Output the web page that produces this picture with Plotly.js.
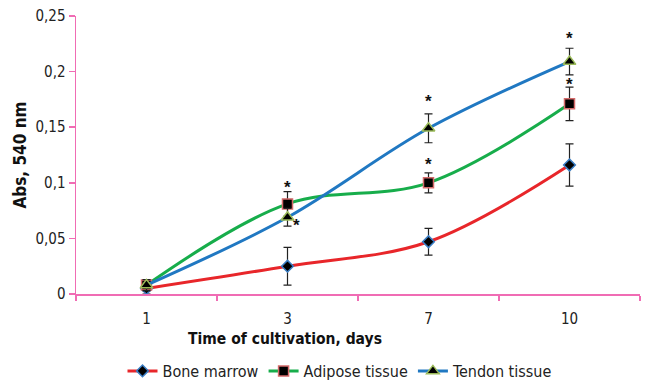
<!DOCTYPE html>
<html><head><meta charset="utf-8">
<script src="https://cdn.plot.ly/plotly-3.0.1.min.js"></script>
<style>html,body{margin:0;padding:0;background:#fff}#c{width:646px;height:383px}</style>
</head><body><div id="c"></div>
<script>
const days = ['1','3','7','10'];
const boneMarrow = [0.005, 0.025, 0.047, 0.116];
const boneMarrowErr = [0.005, 0.017, 0.012, 0.019];
const adipose = [0.008, 0.081, 0.100, 0.171];
const adiposeErr = [0.005, 0.011, 0.009, 0.015];
const tendon = [0.008, 0.069, 0.149, 0.209];
const tendonErr = [0.005, 0.008, 0.013, 0.012];
const seriesNames = ['Bone marrow', 'Adipose tissue', 'Tendon tissue'];

const FONT = '"DejaVu Sans Condensed", "Liberation Sans Narrow", "Liberation Sans", sans-serif';
const axisPink = '#f06cb4';

function mk(y, e, name, color, sym, outline, size) {
  return {
    x: days, y: y, name: name, type: 'scatter', mode: 'lines+markers',
    line: {color: color, width: 3, shape: 'spline', smoothing: 1},
    marker: {symbol: sym, color: '#000', size: size, line: {color: outline, width: 1.5}},
    error_y: {type: 'data', array: e, visible: true, color: '#222', thickness: 1.2, width: 4}
  };
}
const traces = [
  mk(boneMarrow, boneMarrowErr, seriesNames[0], '#e8262a', 'diamond', '#3a7dc4', 9),
  mk(adipose, adiposeErr, seriesNames[1], '#17ad4b', 'square', '#d46a6a', 10),
  mk(tendon, tendonErr, seriesNames[2], '#2078c2', 'triangle-up', '#9bbb59', 11)
];

const stars = [
  [adipose, adiposeErr, 1, 0, 4],
  [tendon, tendonErr, 1, 9, -8],
  [adipose, adiposeErr, 2, 0, 8],
  [tendon, tendonErr, 2, 0, 12],
  [adipose, adiposeErr, 3, 0, 3],
  [tendon, tendonErr, 3, 0, 10]
];
const annotations = stars.map(s => {
  const isSide = s[3] !== 0;
  return {
    x: s[2], y: isSide ? s[0][s[2]] : s[0][s[2]] + s[1][s[2]],
    xref: 'x', yref: 'y', text: '<b>*</b>', showarrow: false,
    xshift: s[3], yshift: s[4], font: {family: 'Liberation Sans, sans-serif', size: 17, color: '#111'}
  };
});
annotations.push({
  x: (285 - 76) / (640 - 76), y: (294 - 339) / (294 - 16), xref: 'paper', yref: 'paper',
  xanchor: 'center', yanchor: 'middle',
  text: '<b>Time of cultivation, days</b>',
  showarrow: false, font: {family: FONT, size: 15.5, color: '#111'}
});

const layout = {
  width: 646, height: 383,
  margin: {l: 76, r: 6, t: 16, b: 89},
  paper_bgcolor: '#fff', plot_bgcolor: '#fff',
  separators: ', ',
  font: {family: FONT, size: 14, color: '#222'},
  showlegend: true,
  legend: {orientation: 'h', xref: 'container', yref: 'container',
           x: 340 / 646, xanchor: 'center', y: (383 - 371) / 383, yanchor: 'middle',
           font: {family: FONT, size: 16, color: '#222'}, itemwidth: 30, tracegroupgap: 0},
  xaxis: {
    type: 'category', range: [-0.5, 3.5], showline: true, linecolor: axisPink, linewidth: 1.5,
    ticks: 'outside', tickson: 'boundaries', ticklen: 5, tickcolor: axisPink, tickwidth: 1.5,
    ticklabelstandoff: 10, automargin: false,
    showgrid: false, zeroline: false, tickfont: {family: FONT, size: 15, color: '#222'}
  },
  yaxis: {
    range: [0, 0.25], tickvals: [0, 0.05, 0.1, 0.15, 0.2, 0.25],
    showline: true, linecolor: axisPink, linewidth: 1.5, automargin: false,
    ticks: 'outside', ticklen: 6, tickcolor: axisPink, tickwidth: 1.5,
    showgrid: false, zeroline: false, tickfont: {family: FONT, size: 15, color: '#222'},
    title: {text: '<b>Abs, 540 nm</b>', font: {family: FONT, size: 17, color: '#111'}, standoff: 4}
  },
  annotations: annotations
};
Plotly.newPlot('c', traces, layout, {displayModeBar: false, staticPlot: true});
</script></body></html>
